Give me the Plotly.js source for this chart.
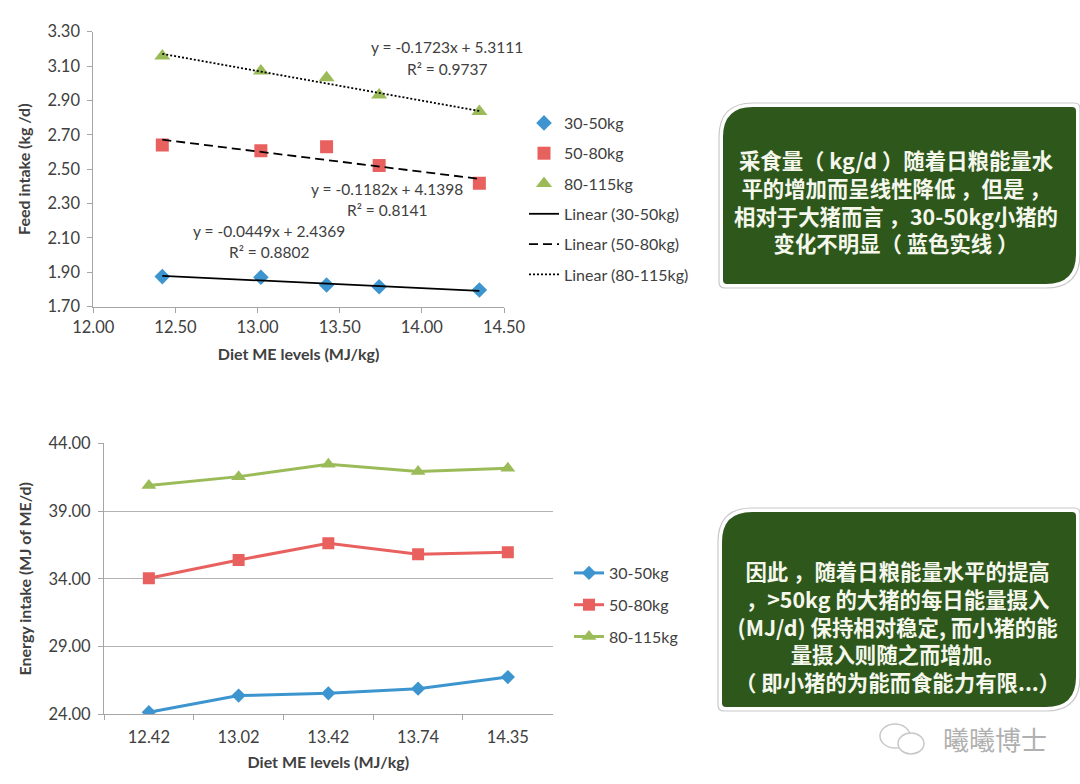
<!DOCTYPE html>
<html>
<head>
<meta charset="utf-8">
<script src="https://cdn.plot.ly/plotly-3.0.1.min.js"></script>
<style>html,body{margin:0;padding:0;background:#fff}#chart{width:1080px;height:784px}</style>
</head>
<body>
<div id="chart"></div>
<script>
// ---------- data ----------
const meLevels = [12.42, 13.02, 13.42, 13.74, 14.35];
const groups = ['30-50kg', '50-80kg', '80-115kg'];
// Feed intake (kg/d)
const feed30 = [1.875, 1.871, 1.826, 1.816, 1.797];
const feed50 = [2.641, 2.608, 2.631, 2.522, 2.418];
const feed80 = [3.158, 3.071, 3.032, 2.932, 2.835];
// Linear trend equations shown on chart
const trendSlope = [-0.0449, -0.1182, -0.1723];
const trendIntercept = [2.4369, 4.1398, 5.3111];
const trendR2 = ['0.8802', '0.8141', '0.9737'];
// Energy intake (MJ of ME/d)
const energy30 = [24.15, 25.38, 25.55, 25.89, 26.75];
const energy50 = [34.04, 35.39, 36.62, 35.81, 35.96];
const energy80 = [40.88, 41.54, 42.45, 41.91, 42.16];
// Text boxes
const note1 = ['采食量（ kg/d ）随着日粮能量水', '平的增加而呈线性降低 ，但是 ，', '相对于大猪而言 ，30-50kg小猪的', '变化不明显（ 蓝色实线 ）'];
const note2 = ['因此 ，随着日粮能量水平的提高', '，>50kg 的大猪的每日能量摄入', '(MJ/d) 保持相对稳定, 而小猪的能', '量摄入则随之而增加。', '（ 即小猪的为能而食能力有限...）'];
const watermark = '曦曦博士';

// ---------- helpers ----------
const W = 1080, H = 784;
const X = p => p / W;
const Y = p => 1 - p / H;
const fmt = v => v.toFixed(2);
const P = (x, y) => X(x).toFixed(5) + ',' + Y(y).toFixed(5);
function boxPath(l, t, r, b, rb, rs) {
  return 'M' + P(l + rb, t) + ' L' + P(r - rs, t) + ' Q' + P(r, t) + ' ' + P(r, t + rs) +
    ' L' + P(r, b - rb) + ' Q' + P(r, b) + ' ' + P(r - rb, b) +
    ' L' + P(l + rs, b) + ' Q' + P(l, b) + ' ' + P(l, b - rs) +
    ' L' + P(l, t + rb) + ' Q' + P(l, t) + ' ' + P(l + rb, t) + ' Z';
}

const cBlue = '#3d95cf', cRed = '#e8615f', cGreen = '#9bbb59';
const txt = '#404040';
const feedSeries = [feed30, feed50, feed80];
const energySeries = [energy30, energy50, energy80];
const colors = [cBlue, cRed, cGreen];
const symbols = ['diamond', 'square', 'triangle-up'];
const topSizes = [12, 13, 14];
const botSizes = [11, 12, 13];
const dashes = ['solid', '9px,5px', '2px,2px'];

const traces = [];
groups.forEach((g, i) => {
  traces.push({
    x: meLevels, y: feedSeries[i], xaxis: 'x', yaxis: 'y', type: 'scatter', mode: 'markers',
    name: g, legend: 'legend', legendgroup: 'g' + i,
    marker: {symbol: symbols[i], size: topSizes[i], color: colors[i]}
  });
});
groups.forEach((g, i) => {
  const x0 = Math.min(...meLevels), x1 = Math.max(...meLevels);
  traces.push({
    x: [x0, x1], y: [trendSlope[i] * x0 + trendIntercept[i], trendSlope[i] * x1 + trendIntercept[i]],
    xaxis: 'x', yaxis: 'y', type: 'scatter', mode: 'lines',
    name: 'Linear (' + g + ')', legend: 'legend', legendgroup: 't' + i,
    line: {color: '#000000', width: 1.8, dash: dashes[i]}
  });
});
groups.forEach((g, i) => {
  traces.push({
    x: meLevels.map(fmt), y: energySeries[i], xaxis: 'x2', yaxis: 'y2', type: 'scatter', mode: 'lines+markers',
    name: g, legend: 'legend2', legendgroup: 'e' + i,
    line: {color: colors[i], width: 3},
    marker: {symbol: symbols[i], size: botSizes[i], color: colors[i]}
  });
});

const annotations = [];
const eqPos = [[269, 231, 252], [387, 189, 210], [447, 47, 69]];
groups.forEach((g, i) => {
  const sign = trendIntercept[i] >= 0 ? ' + ' : ' - ';
  annotations.push({xref: 'paper', yref: 'paper', x: X(eqPos[i][0]), y: Y(eqPos[i][1]), xanchor: 'center', yanchor: 'middle',
    text: 'y = ' + trendSlope[i].toFixed(4) + 'x' + sign + Math.abs(trendIntercept[i]).toFixed(4), showarrow: false,
    font: {size: 15.5, color: txt}});
  annotations.push({xref: 'paper', yref: 'paper', x: X(eqPos[i][0]), y: Y(eqPos[i][2]), xanchor: 'center', yanchor: 'middle',
    text: 'R² = ' + trendR2[i], showarrow: false, font: {size: 15.5, color: txt}});
});
const noteFont = {family: 'Noto Sans CJK SC', size: 21.4, color: '#f5f7ec', weight: 'bold'};
annotations.push({xref: 'paper', yref: 'paper', x: X(896), y: Y(201.5), xanchor: 'center', yanchor: 'middle', align: 'center',
  text: note1.join('<br>'), showarrow: false, font: noteFont});
annotations.push({xref: 'paper', yref: 'paper', x: X(897), y: Y(625.5), xanchor: 'center', yanchor: 'middle', align: 'center',
  text: note2.join('<br>'), showarrow: false, font: noteFont});
annotations.push({xref: 'paper', yref: 'paper', x: X(995), y: Y(738), xanchor: 'center', yanchor: 'middle',
  text: watermark, showarrow: false, font: {family: 'Noto Sans CJK SC', size: 26, color: '#b0b0b0'}});

const shapes = [];
[[723, 107, 1076, 284], [722, 512, 1076, 707]].forEach(b => {
  shapes.push({type: 'path', xref: 'paper', yref: 'paper', path: boxPath(b[0] - 4, b[1] - 4, b[2] + 4, b[3] + 4, 34, 6),
    fillcolor: '#ffffff', line: {color: '#c9c9c9', width: 1.2}, layer: 'below'});
  shapes.push({type: 'path', xref: 'paper', yref: 'paper', path: boxPath(b[0], b[1], b[2], b[3], 30, 4),
    fillcolor: '#2e571c', line: {width: 0}, layer: 'below'});
});
// watermark icon (two speech bubbles)
shapes.push({type: 'circle', xref: 'paper', yref: 'paper', x0: X(880), x1: X(910), y0: Y(748), y1: Y(724), line: {color: '#c8c8c8', width: 1.5}, fillcolor: '#ffffff'});
shapes.push({type: 'circle', xref: 'paper', yref: 'paper', x0: X(898), x1: X(924), y0: Y(754), y1: Y(733), line: {color: '#c8c8c8', width: 1.5}, fillcolor: '#ffffff'});

const axCommon = {showline: true, linecolor: '#a6a6a6', linewidth: 1, ticks: 'outside', ticklen: 5, tickcolor: '#a6a6a6',
  zeroline: false, tickfont: {size: 16.5, color: txt}};
const titleFont = {size: 16, weight: 'bold', color: txt};

const layout = {
  width: W, height: H, margin: {l: 0, r: 0, t: 0, b: 0},
  paper_bgcolor: '#ffffff', plot_bgcolor: '#ffffff',
  font: {family: 'Lato', color: txt},
  xaxis: Object.assign({}, axCommon, {domain: [X(93.3), X(504)], anchor: 'y', range: [12, 14.5], dtick: 0.5, tick0: 12,
    tickformat: '.2f', showgrid: false,
    title: {text: 'Diet ME levels (MJ/kg)', font: titleFont, standoff: 13}}),
  yaxis: Object.assign({}, axCommon, {domain: [Y(306.7), Y(31.7)], anchor: 'x', range: [1.7, 3.3], dtick: 0.2, tick0: 1.7,
    tickformat: '.2f', showgrid: false, ticklabelstandoff: 4,
    title: {text: 'Feed intake (kg /d)', font: titleFont, standoff: 12}}),
  xaxis2: Object.assign({}, axCommon, {domain: [X(104), X(552.7)], anchor: 'y2', type: 'category', tickson: 'boundaries',
    range: [-0.5, 4.5], showgrid: false, ticklabelstandoff: 8,
    title: {text: 'Diet ME levels (MJ/kg)', font: titleFont, standoff: 10}}),
  yaxis2: Object.assign({}, axCommon, {domain: [Y(714.3), Y(443.3)], anchor: 'x2', range: [24, 44], dtick: 5, tick0: 24,
    tickformat: '.2f', showgrid: true, gridcolor: '#b3b3b3', gridwidth: 1, ticklabelstandoff: 4,
    title: {text: 'Energy intake (MJ of ME/d)', font: titleFont, standoff: 12}}),
  legend: {x: X(524), y: Y(106), xanchor: 'left', yanchor: 'top', font: {size: 16, color: txt}, bgcolor: 'rgba(0,0,0,0)',
    traceorder: 'grouped', tracegroupgap: 6.5, itemwidth: 30},
  legend2: {x: X(569), y: Y(556), xanchor: 'left', yanchor: 'top', font: {size: 16, color: txt}, bgcolor: 'rgba(0,0,0,0)',
    traceorder: 'grouped', tracegroupgap: 8, itemwidth: 30},
  annotations: annotations,
  shapes: shapes
};

Plotly.newPlot('chart', traces, layout, {displayModeBar: false, staticPlot: true});
</script>
</body>
</html>
